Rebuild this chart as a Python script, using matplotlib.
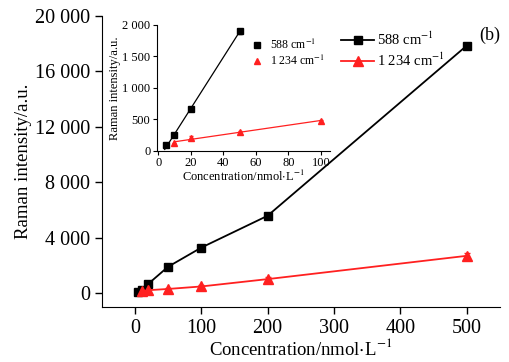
import numpy as np
import matplotlib
matplotlib.use("Agg")
import matplotlib.pyplot as plt
import matplotlib.ticker as mtick
from matplotlib.lines import Line2D

# ==========================================
# DATA
# ==========================================
# Main plot: concentration (nmol/L) vs. Raman intensity
conc_588 = [5, 10, 20, 50, 100, 200, 500]
int_588 = [90, 250, 660, 1900, 3280, 5580, 17850]
err_588 = [40, 50, 60, 80, 120, 150, 200]

conc_1234 = [10, 20, 50, 100, 200, 500]
int_1234 = [120, 210, 300, 480, 1010, 2690]
err_1234 = [60, 90, 70, 80, 120, 180]

# Inset: low concentration range
ins_conc_588 = [5, 10, 20, 50]
ins_int_588 = [90, 250, 660, 1900]
ins_err_588 = [10, 15, 20, 40]

ins_conc_1234 = [10, 20, 50, 100]
ins_int_1234 = [120, 210, 300, 480]
ins_err_1234 = [10, 25, 10, 15]

LABELS = ["588 cm$^{-1}$", "1 234 cm$^{-1}$"]
BLACK = "black"
RED = "#ff2020"

plt.rcParams["font.family"] = ["Liberation Serif", "DejaVu Serif"]
plt.rcParams["mathtext.fontset"] = "stix"


def space_thousands(x, pos):
    return f"{x:,.0f}".replace(",", " ")


fig = plt.figure(figsize=(5.1, 3.62), dpi=100)

# ==========================================
# MAIN AXES
# ==========================================
ax = fig.add_axes([0.1994, 0.152, 0.7806, 0.804])
ax.plot(conc_588, int_588, color=BLACK, lw=1.3, marker="s", ms=6,
        label=LABELS[0], zorder=3)
ax.errorbar(conc_588, int_588, yerr=err_588, fmt="none", ecolor=BLACK,
            elinewidth=1, capsize=2, zorder=2)
ax.plot(conc_1234, int_1234, color=RED, lw=1.3, marker="^", ms=7,
        label=LABELS[1], zorder=3)
ax.errorbar(conc_1234, int_1234, yerr=err_1234, fmt="none", ecolor=RED,
            elinewidth=1, capsize=2, zorder=2)

ax.set_xlim(-50, 550)
ax.set_ylim(-1000, 20000)
ax.set_xticks(np.arange(0, 501, 100))
ax.set_yticks(np.arange(0, 20001, 4000))
ax.yaxis.set_major_formatter(mtick.FuncFormatter(space_thousands))
ax.spines["top"].set_visible(False)
ax.spines["right"].set_visible(False)
ax.tick_params(labelsize=14.5, direction="out", length=5, width=1)
ax.set_xlabel("Concentration/nmol$\\cdot$L$^{-1}$", fontsize=13.5, labelpad=0)
ax.set_ylabel("Raman intensity/a.u.", fontsize=13.5, labelpad=2)

ax.legend(loc="upper left", bbox_to_anchor=(0.568, 0.995), frameon=False,
          fontsize=10.5, handlelength=2.3, handletextpad=0.2, labelspacing=0.3)
ax.text(0.975, 0.935, "(b)", transform=ax.transAxes, fontsize=13,
        ha="center", va="center")

# ==========================================
# INSET
# ==========================================
ins = fig.add_axes([0.307, 0.583, 0.34, 0.348])
ins.errorbar(ins_conc_588, ins_int_588, yerr=ins_err_588, fmt="s",
             color=BLACK, ms=4.5, elinewidth=0.8, capsize=1.5)
ins.errorbar(ins_conc_1234, ins_int_1234, yerr=ins_err_1234, fmt="^",
             color=RED, ms=4.5, elinewidth=0.8, capsize=1.5)

# linear fits drawn through the low-range points
k1, b1 = np.polyfit(ins_conc_588, ins_int_588, 1)
xf1 = np.array([ins_conc_588[0] - 1, ins_conc_588[-1]])
ins.plot(xf1, k1 * xf1 + b1, color=BLACK, lw=0.9)
k2, b2 = np.polyfit(ins_conc_1234, ins_int_1234, 1)
xf2 = np.array([ins_conc_1234[0], ins_conc_1234[-1]])
ins.plot(xf2, k2 * xf2 + b2, color=RED, lw=0.9)

ins.set_xlim(-1, 105.5)
ins.set_ylim(0, 2000)
ins.set_xticks(np.arange(0, 101, 20))
ins.set_yticks(np.arange(0, 2001, 500))
ins.yaxis.set_major_formatter(mtick.FuncFormatter(space_thousands))
ins.spines["top"].set_visible(False)
ins.spines["right"].set_visible(False)
ins.tick_params(labelsize=9, direction="out", length=3, width=0.8, pad=1.5)
ins.set_xlabel("Concentration/nmol$\\cdot$L$^{-1}$", fontsize=9, labelpad=0)
ins.set_ylabel("Raman intensity/a.u.", fontsize=9, labelpad=1)
ins.patch.set_alpha(0)

ins_handles = [
    Line2D([], [], ls="none", marker="s", color=BLACK, ms=4),
    Line2D([], [], ls="none", marker="^", color=RED, ms=4),
]
ins.legend(ins_handles, LABELS, loc="upper left", bbox_to_anchor=(0.49, 0.985),
           frameon=False, fontsize=8.5, handlelength=0.8, handletextpad=0.7,
           labelspacing=0.2)

fig.savefig("out.png", dpi=100)
